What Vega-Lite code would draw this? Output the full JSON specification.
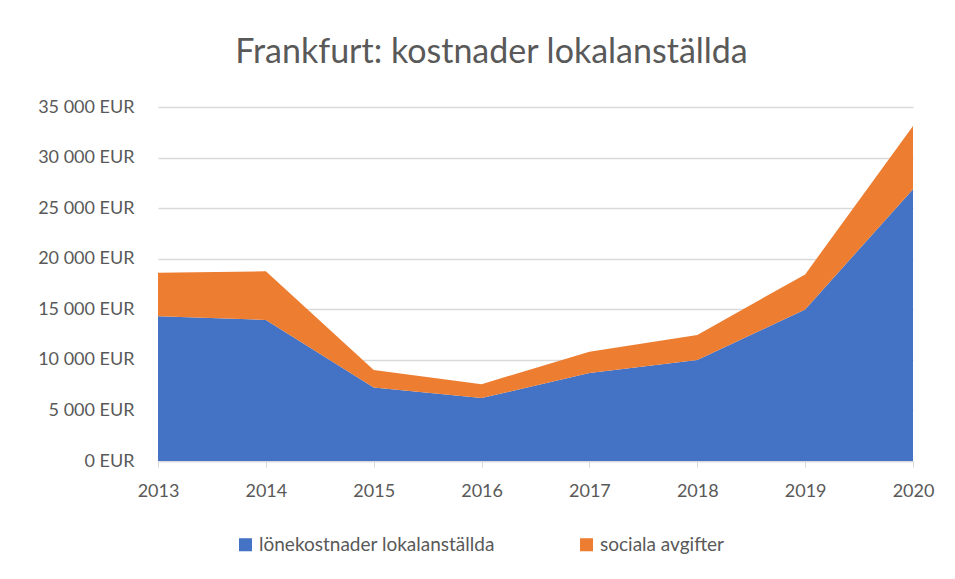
{
  "$schema": "https://vega.github.io/schema/vega-lite/v6.json",
  "width": 755,
  "height": 354,
  "autosize": {"type": "none"},
  "padding": {"left": 158, "top": 107, "right": 42, "bottom": 118},
  "background": "white",
  "title": {
    "text": "Frankfurt: kostnader lokalanställda",
    "font": "Lato",
    "fontSize": 34,
    "fontWeight": "normal",
    "color": "#595959",
    "anchor": "middle",
    "dx": -44,
    "offset": 28
  },
  "data": {
    "values": [
      {"year": "2013", "serie": "lönekostnader lokalanställda", "ord": 1, "value": 14300},
      {"year": "2014", "serie": "lönekostnader lokalanställda", "ord": 1, "value": 13950},
      {"year": "2015", "serie": "lönekostnader lokalanställda", "ord": 1, "value": 7270},
      {"year": "2016", "serie": "lönekostnader lokalanställda", "ord": 1, "value": 6220},
      {"year": "2017", "serie": "lönekostnader lokalanställda", "ord": 1, "value": 8700},
      {"year": "2018", "serie": "lönekostnader lokalanställda", "ord": 1, "value": 9990},
      {"year": "2019", "serie": "lönekostnader lokalanställda", "ord": 1, "value": 14980},
      {"year": "2020", "serie": "lönekostnader lokalanställda", "ord": 1, "value": 26880},
      {"year": "2013", "serie": "sociala avgifter", "ord": 2, "value": 4300},
      {"year": "2014", "serie": "sociala avgifter", "ord": 2, "value": 4800},
      {"year": "2015", "serie": "sociala avgifter", "ord": 2, "value": 1730},
      {"year": "2016", "serie": "sociala avgifter", "ord": 2, "value": 1380},
      {"year": "2017", "serie": "sociala avgifter", "ord": 2, "value": 2110},
      {"year": "2018", "serie": "sociala avgifter", "ord": 2, "value": 2480},
      {"year": "2019", "serie": "sociala avgifter", "ord": 2, "value": 3470},
      {"year": "2020", "serie": "sociala avgifter", "ord": 2, "value": 6250}
    ]
  },
  "mark": {"type": "area", "opacity": 1, "interpolate": "linear"},
  "encoding": {
    "x": {
      "field": "year",
      "type": "ordinal",
      "scale": {"type": "point", "padding": 0},
      "axis": {
        "title": null,
        "labelAngle": 0,
        "labelFont": "Lato",
        "labelFontSize": 18,
        "labelColor": "#595959",
        "domainColor": "#D9D9D9",
        "domainWidth": 1.5,
        "tickColor": "#D9D9D9",
        "tickSize": 6,
        "labelPadding": 15,
        "grid": false
      }
    },
    "y": {
      "field": "value",
      "type": "quantitative",
      "stack": "zero",
      "scale": {"domain": [0, 35000], "nice": false},
      "axis": {
        "title": null,
        "values": [0, 5000, 10000, 15000, 20000, 25000, 30000, 35000],
        "labelExpr": "replace(format(datum.value, ',d'), ',', ' ') + ' EUR'",
        "labelFont": "Lato",
        "labelFontSize": 18,
        "labelColor": "#595959",
        "domain": false,
        "ticks": false,
        "labelPadding": 24,
        "gridColor": "#D9D9D9",
        "gridWidth": 1.5
      }
    },
    "color": {
      "field": "serie",
      "type": "nominal",
      "scale": {
        "domain": ["lönekostnader lokalanställda", "sociala avgifter"],
        "range": ["#4472C4", "#ED7D31"]
      },
      "legend": {
        "title": null,
        "orient": "none",
        "direction": "horizontal",
        "legendX": 78,
        "legendY": 428,
        "symbolType": "square",
        "symbolSize": 170,
        "symbolStrokeWidth": 0,
        "labelFont": "Lato",
        "labelFontSize": 19,
        "labelLimit": 500,
        "labelColor": "#595959",
        "labelOffset": 4,
        "columnPadding": 82
      }
    },
    "order": {"field": "ord", "type": "quantitative"}
  },
  "config": {
    "view": {"stroke": null}
  }
}
